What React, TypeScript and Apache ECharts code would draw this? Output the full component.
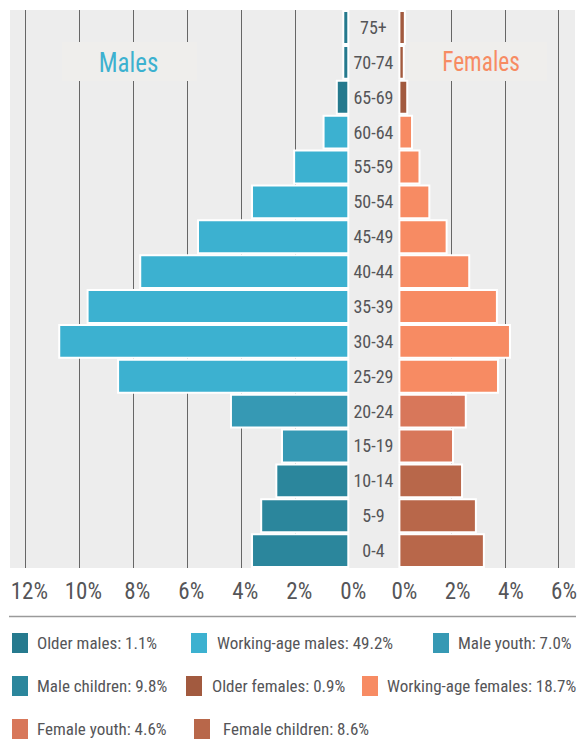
import React, { useEffect, useRef } from 'react';
import * as echarts from 'echarts';

const ageGroups = ['75+', '70-74', '65-69', '60-64', '55-59', '50-54', '45-49', '40-44', '35-39', '30-34', '25-29', '20-24', '15-19', '10-14', '5-9', '0-4'];
const maleValues = [0.26, 0.26, 0.5, 0.99, 2.08, 3.64, 5.64, 7.78, 9.73, 10.78, 8.6, 4.42, 2.53, 2.74, 3.3, 3.64];
const femaleValues = [0.28, 0.24, 0.37, 0.55, 0.83, 1.2, 1.85, 2.7, 3.74, 4.23, 3.78, 2.57, 2.09, 2.43, 2.95, 3.25];
const maleTickMax = 12;
const femaleTickMax = 6;
const tickInterval = 2;

// Row indexes of each group (top row = 0)
const olderRows = [0, 1, 2];
const workingRows = [3, 4, 5, 6, 7, 8, 9, 10];
const youthRows = [11, 12];
const childRows = [13, 14, 15];

const maleGroupNames = ['Older males: 1.1%', 'Working-age males: 49.2%', 'Male youth: 7.0%', 'Male children: 9.8%'];
const femaleGroupNames = ['Older females: 0.9%', 'Working-age females: 18.7%', 'Female youth: 4.6%', 'Female children: 8.6%'];
const maleColors = ['#267a8e', '#3cb1d0', '#3699b4', '#2b869c'];
const femaleColors = ['#a25a3f', '#f78b63', '#d8775a', '#b8674a'];
const groupRows = [olderRows, workingRows, youthRows, childRows];

const FONT = "'Roboto Condensed', Roboto, sans-serif";
const TEXT = '#555558';

export default function App() {
  const ref = useRef<HTMLDivElement>(null);
  useEffect(() => {
    document.body.style.margin = '0';
    if (!ref.current) return;
    const chart = echarts.init(ref.current, undefined, { renderer: 'svg' });

    const mkSeries = (names: string[], colors: string[], values: number[], axis: number, stack: string) =>
      names.map((name, g) => ({
        type: 'bar',
        name,
        xAxisIndex: axis,
        yAxisIndex: axis,
        stack,
        barCategoryGap: '0%',
        data: values.map((v, i) => (groupRows[g].includes(i) ? v : '-')),
        itemStyle: { color: colors[g], borderColor: '#ffffff', borderWidth: 2 },
        emphasis: { disabled: true },
      }));

    const legendPos: { name: string; left: number; top: number; pad: number }[] = [
      { name: maleGroupNames[0], left: 10, top: 631, pad: 3 },
      { name: maleGroupNames[1], left: 189, top: 631, pad: 4 },
      { name: maleGroupNames[2], left: 431, top: 631, pad: 3 },
      { name: maleGroupNames[3], left: 10, top: 674, pad: 3 },
      { name: femaleGroupNames[0], left: 184, top: 674, pad: 4 },
      { name: femaleGroupNames[1], left: 360, top: 674, pad: 3 },
      { name: femaleGroupNames[2], left: 10, top: 717, pad: 3 },
      { name: femaleGroupNames[3], left: 192, top: 717, pad: 7 },
    ];

    const option: any = {
      animation: false,
      grid: [
        { left: 25.3, right: 580 - 349.3, top: 10, bottom: 746 - 568 },
        { left: 398.4, right: 580 - 561.3, top: 10, bottom: 746 - 568 },
      ],
      xAxis: [
        {
          type: 'value', gridIndex: 0, inverse: true, min: 0, max: maleTickMax, interval: tickInterval,
          axisLine: { show: false }, axisTick: { show: false },
          axisLabel: { formatter: '{value}%', fontSize: 23, color: TEXT, fontFamily: FONT, margin: 12, padding: [0, 0, 0, 8] },
          splitLine: { show: true, showMinLine: false, lineStyle: { color: '#666', width: 1 } },
        },
        {
          type: 'value', gridIndex: 1, min: 0, max: femaleTickMax, interval: tickInterval,
          axisLine: { show: false }, axisTick: { show: false },
          axisLabel: { formatter: '{value}%', fontSize: 23, color: TEXT, fontFamily: FONT, margin: 12, padding: [0, 0, 0, 12] },
          splitLine: { show: true, showMinLine: false, lineStyle: { color: '#666', width: 1 } },
        },
      ],
      yAxis: [
        { type: 'category', gridIndex: 0, inverse: true, data: ageGroups, show: false },
        {
          type: 'category', gridIndex: 1, inverse: true, data: ageGroups, position: 'left',
          axisLine: { show: false }, axisTick: { show: false }, splitLine: { show: false },
          axisLabel: { margin: 25, align: 'center', fontSize: 18, color: TEXT, fontFamily: FONT },
        },
      ],
      legend: legendPos.map((l) => ({
        data: [l.name], left: l.left, top: l.top, padding: 0, itemWidth: 18, itemHeight: 22,
        icon: 'rect', selectedMode: false,
        textStyle: { fontSize: 17, color: TEXT, fontFamily: FONT, padding: [0, 0, 0, l.pad] },
      })),
      graphic: [
        { type: 'rect', z: -10, shape: { x: 10, y: 10, width: 565, height: 558 }, style: { fill: '#ededed' }, silent: true },
        { type: 'rect', z: 1, shape: { x: 62, y: 42, width: 135, height: 39 }, style: { fill: '#efeeec' }, silent: true },
        { type: 'text', z: 1, x: 128.5, y: 61.5, scaleX: 0.89, style: { text: 'Males', fontSize: 28, fontFamily: FONT, fill: '#3cb1d0', align: 'center', verticalAlign: 'middle' }, silent: true },
        { type: 'rect', z: 1, shape: { x: 409, y: 42, width: 138, height: 39 }, style: { fill: '#efeeec' }, silent: true },
        { type: 'text', z: 1, x: 481, y: 61.5, scaleX: 0.835, style: { text: 'Females', fontSize: 28, fontFamily: FONT, fill: '#f78b63', align: 'center', verticalAlign: 'middle' }, silent: true },
        { type: 'line', z: 1, shape: { x1: 9, y1: 616.5, x2: 576, y2: 616.5 }, style: { stroke: '#9a9a9a', lineWidth: 1.5 }, silent: true },
      ],
      series: [
        ...mkSeries(maleGroupNames, maleColors, maleValues, 0, 'male'),
        ...mkSeries(femaleGroupNames, femaleColors, femaleValues, 1, 'female'),
      ],
    };
    chart.setOption(option);
    return () => chart.dispose();
  }, []);
  return <div ref={ref} style={{ width: 580, height: 746 }} />;
}
